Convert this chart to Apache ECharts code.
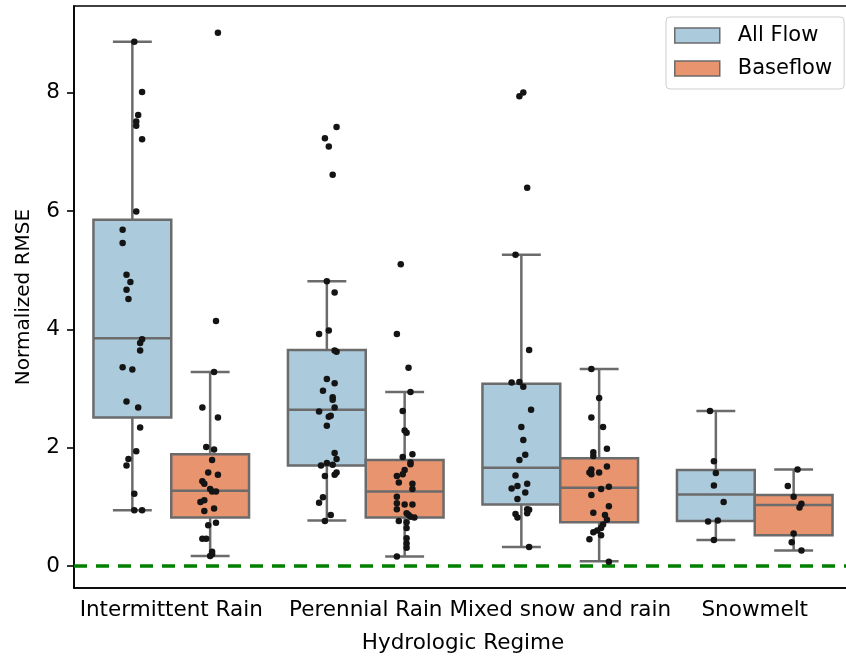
<!DOCTYPE html>
<html>
<head>
<meta charset="utf-8">
<script src="https://cdn.jsdelivr.net/npm/echarts@6/dist/echarts.min.js"></script>
<style>
  html, body { margin: 0; padding: 0; overflow: hidden; background: #ffffff; }
  #chart { width: 852px; height: 659px; }
</style>
</head>
<body>
<div id="chart"></div>
<script>
// Hydrologic regimes along the x axis
const categories = ['Intermittent Rain', 'Perennial Rain', 'Mixed snow and rain', 'Snowmelt'];
const groupNames = ['All Flow', 'Baseflow'];
const yTicks = [0, 2, 4, 6, 8];
const referenceLevel = 0;

// Box summaries per regime: [lower whisker, Q1, median, Q3, upper whisker]
const allFlowBoxes = [
  [0.94, 2.51, 3.85, 5.85, 8.86],
  [0.77, 1.70, 2.64, 3.65, 4.81],
  [0.32, 1.04, 1.66, 3.08, 5.26],
  [0.44, 0.76, 1.21, 1.62, 2.62]
];
const baseflowBoxes = [
  [0.17, 0.82, 1.27, 1.89, 3.28],
  [0.16, 0.82, 1.26, 1.79, 2.94],
  [0.08, 0.74, 1.32, 1.82, 3.33],
  [0.26, 0.52, 1.03, 1.20, 1.63]
];

// Individual gauges: [horizontal jitter, normalized RMSE]
const intermittentAll = [
  [0.01, 8.86], [0.05, 8.01], [0.03, 7.62], [0.02, 7.51], [0.02, 7.44], [0.05, 7.21],
  [0.02, 5.99], [-0.05, 5.68], [-0.05, 5.46], [-0.03, 4.92], [-0.01, 4.80], [-0.03, 4.67],
  [-0.02, 4.51], [0.05, 3.83], [0.04, 3.77], [0.04, 3.64], [-0.05, 3.36], [0.00, 3.32],
  [-0.03, 2.78], [0.03, 2.68], [0.04, 2.34], [0.02, 1.94], [-0.02, 1.81], [-0.03, 1.70],
  [0.01, 1.22], [0.01, 0.94], [0.05, 0.94]
];
const intermittentBase = [
  [0.04, 9.01], [0.03, 4.14], [0.02, 3.28], [-0.04, 2.68], [0.04, 2.51], [-0.02, 2.01],
  [0.02, 1.97], [0.01, 1.79], [-0.01, 1.58], [0.04, 1.54], [-0.04, 1.43], [-0.03, 1.39],
  [0.00, 1.30], [0.01, 1.26], [0.03, 1.26], [-0.03, 1.11], [-0.05, 1.08], [0.02, 0.97],
  [-0.03, 0.93], [0.03, 0.73], [-0.01, 0.69], [-0.04, 0.46], [-0.02, 0.46], [0.01, 0.24],
  [0.01, 0.20], [0.00, 0.17]
];
const perennialAll = [
  [0.05, 7.42], [-0.01, 7.23], [0.01, 7.09], [0.03, 6.61], [0.00, 4.81], [0.04, 4.62],
  [-0.04, 3.92], [0.01, 3.98], [0.04, 3.64], [0.05, 3.62], [0.00, 3.16], [0.04, 3.09],
  [-0.02, 2.96], [0.03, 2.85], [0.03, 2.81], [0.04, 2.68], [-0.04, 2.61], [0.02, 2.54],
  [0.01, 2.52], [0.00, 2.37], [0.04, 1.91], [0.05, 1.81], [-0.03, 1.70], [0.00, 1.74],
  [0.03, 1.71], [-0.01, 1.52], [0.05, 1.58], [0.04, 1.54], [-0.02, 1.16], [-0.04, 1.07],
  [0.02, 0.86], [-0.01, 0.76]
];
const perennialBase = [
  [-0.02, 5.10], [-0.04, 3.92], [0.02, 3.35], [0.03, 2.94], [-0.01, 2.62], [0.00, 2.29],
  [0.01, 2.25], [0.04, 1.89], [-0.01, 1.84], [0.03, 1.75], [0.03, 1.72], [0.00, 1.62],
  [-0.04, 1.52], [-0.01, 1.55], [-0.03, 1.41], [0.04, 1.39], [0.04, 1.30], [-0.04, 1.17],
  [-0.04, 1.06], [-0.04, 0.96], [0.00, 1.04], [0.04, 1.04], [0.01, 0.89], [0.02, 0.86],
  [0.03, 0.83], [0.05, 0.82], [-0.03, 0.76], [0.01, 0.74], [0.01, 0.64], [0.01, 0.47],
  [0.01, 0.38], [0.01, 0.31], [-0.04, 0.16]
];
const mixedAll = [
  [-0.01, 7.94], [0.01, 8.00], [0.03, 6.39], [-0.03, 5.26], [0.04, 3.65], [-0.05, 3.10],
  [-0.01, 3.11], [0.01, 3.03], [0.05, 2.64], [0.00, 2.35], [0.01, 2.13], [0.02, 1.88],
  [-0.01, 1.79], [-0.03, 1.53], [0.03, 1.39], [-0.02, 1.35], [-0.05, 1.31], [0.02, 1.24],
  [-0.02, 1.13], [0.03, 0.96], [0.04, 0.95], [0.03, 0.89], [-0.03, 0.88], [-0.02, 0.82],
  [0.04, 0.32]
];
const mixedBase = [
  [-0.04, 3.33], [0.00, 2.84], [-0.04, 2.51], [0.02, 2.35], [0.04, 1.98], [-0.03, 1.92],
  [-0.03, 1.86], [0.04, 1.68], [-0.04, 1.63], [0.00, 1.58], [-0.04, 1.55], [-0.05, 1.58],
  [0.05, 1.34], [0.01, 1.30], [-0.04, 1.20], [0.05, 1.01], [-0.03, 0.90], [0.03, 0.86],
  [0.04, 0.78], [0.02, 0.70], [0.01, 0.64], [-0.01, 0.60], [-0.03, 0.57], [0.01, 0.52],
  [-0.05, 0.45], [0.05, 0.07]
];
const snowmeltAll = [
  [-0.03, 2.62], [-0.01, 1.77], [0.00, 1.57], [-0.01, 1.36], [0.04, 1.08], [-0.04, 0.75],
  [0.01, 0.77], [-0.01, 0.44]
];
const snowmeltBase = [
  [0.02, 1.63], [-0.03, 1.35], [0.00, 1.17], [0.04, 1.05], [0.03, 0.99], [0.00, 0.55],
  [-0.01, 0.40], [0.04, 0.26]
];

const allFlowPoints = [intermittentAll, perennialAll, mixedAll, snowmeltAll];
const baseflowPoints = [intermittentBase, perennialBase, mixedBase, snowmeltBase];

const FILLS = ['#abcadc', '#e8946f'];
const EDGE = '#6b6b6b';
const FONT = 'DejaVu Sans';
const HALF_DODGE = 0.2;
const BOX_WIDTH = 0.4;
const X_MIN = -0.5;
const X_MAX = categories.length - 0.5;

function boxData(boxes, shift) {
  return boxes.map((b, i) => [i + shift].concat(b));
}
function pointData(groups, shift) {
  const out = [];
  groups.forEach((pts, i) => pts.forEach(p => out.push([i + shift + p[0], p[1]])));
  return out;
}

function renderBox(fill) {
  return function (params, api) {
    const x = api.value(0);
    const lo = api.coord([x, api.value(1)]);
    const q1 = api.coord([x, api.value(2)]);
    const med = api.coord([x, api.value(3)]);
    const q3 = api.coord([x, api.value(4)]);
    const hi = api.coord([x, api.value(5)]);
    const w = api.size([BOX_WIDTH, 0])[0];
    const cx = lo[0];
    const ls = { stroke: EDGE, lineWidth: 2.5, fill: null };
    return {
      type: 'group',
      children: [
        { type: 'line', shape: { x1: cx, y1: q3[1], x2: cx, y2: hi[1] }, style: ls },
        { type: 'line', shape: { x1: cx, y1: q1[1], x2: cx, y2: lo[1] }, style: ls },
        { type: 'line', shape: { x1: cx - w / 4, y1: hi[1], x2: cx + w / 4, y2: hi[1] }, style: ls },
        { type: 'line', shape: { x1: cx - w / 4, y1: lo[1], x2: cx + w / 4, y2: lo[1] }, style: ls },
        { type: 'rect', shape: { x: cx - w / 2, y: q3[1], width: w, height: q1[1] - q3[1] },
          style: { fill: fill, stroke: EDGE, lineWidth: 2.5 } },
        { type: 'line', shape: { x1: cx - w / 2, y1: med[1], x2: cx + w / 2, y2: med[1] }, style: ls }
      ]
    };
  };
}

const chart = echarts.init(document.getElementById('chart'), null, { renderer: 'canvas' });

chart.setOption({
  backgroundColor: '#ffffff',
  animation: false,
  textStyle: { fontFamily: FONT, color: '#000' },
  grid: {
    left: 74, right: 0, top: 6, bottom: 71,
    show: true, borderColor: '#000', borderWidth: 1.6, backgroundColor: 'transparent'
  },
  legend: {
    left: 666, top: 17, orient: 'vertical',
    padding: [8, 12, 10, 8],
    itemWidth: 45, itemHeight: 15, itemGap: 12,
    backgroundColor: 'rgba(255,255,255,0.8)',
    borderColor: '#cfcfcf', borderWidth: 1, borderRadius: 4,
    textStyle: { fontFamily: FONT, fontSize: 21, color: '#000', padding: [0, 0, 0, 13] },
    data: groupNames.map((n, k) => ({
      name: n, icon: 'rect',
      itemStyle: { color: FILLS[k], borderColor: EDGE, borderWidth: 1.5 }
    }))
  },
  xAxis: [
    {
      type: 'category', data: categories, position: 'bottom',
      name: 'Hydrologic Regime', nameLocation: 'middle', nameGap: 44,
      nameTextStyle: { fontFamily: FONT, fontSize: 21.5, color: '#000' },
      axisLine: { onZero: false, lineStyle: { color: '#000', width: 1.6 } },
      axisTick: { alignWithLabel: true, length: 6, lineStyle: { color: '#000', width: 1.6 } },
      axisLabel: { interval: 0, margin: 11, fontFamily: FONT, fontSize: 21.5, color: '#000' },
      splitLine: { show: false }
    },
    {
      type: 'value', min: X_MIN, max: X_MAX, show: false,
      axisLine: { show: false, onZero: false }, splitLine: { show: false }
    }
  ],
  yAxis: {
    type: 'value', min: -0.372, max: 9.463,
    name: 'Normalized RMSE', nameLocation: 'middle', nameGap: 40, nameRotate: 90,
    nameTextStyle: { fontFamily: FONT, fontSize: 20, color: '#000' },
    axisLine: { show: true, onZero: false, lineStyle: { color: '#000', width: 1.6 } },
    axisTick: { show: true, length: 7, customValues: yTicks, lineStyle: { color: '#000', width: 1.6 } },
    axisLabel: { customValues: yTicks, margin: 14, fontFamily: FONT, fontSize: 21.5, color: '#000' },
    splitLine: { show: false }
  },
  series: [
    {
      name: 'zeroLine', type: 'line', xAxisIndex: 1, z: 3,
      symbol: 'none', silent: true,
      lineStyle: { color: '#008000', width: 3.5, type: [13, 9] },
      data: [[X_MIN, referenceLevel], [X_MAX, referenceLevel]]
    },
    {
      name: groupNames[0], type: 'custom', xAxisIndex: 1, z: 2,
      itemStyle: { color: FILLS[0], borderColor: EDGE },
      renderItem: renderBox(FILLS[0]),
      encode: { x: 0, y: [1, 2, 3, 4, 5] },
      data: boxData(allFlowBoxes, -HALF_DODGE)
    },
    {
      name: groupNames[1], type: 'custom', xAxisIndex: 1, z: 2,
      itemStyle: { color: FILLS[1], borderColor: EDGE },
      renderItem: renderBox(FILLS[1]),
      encode: { x: 0, y: [1, 2, 3, 4, 5] },
      data: boxData(baseflowBoxes, HALF_DODGE)
    },
    {
      name: 'allFlowPts', type: 'scatter', xAxisIndex: 1, z: 4,
      symbolSize: 6.5, itemStyle: { color: '#141414', opacity: 1 },
      data: pointData(allFlowPoints, -HALF_DODGE)
    },
    {
      name: 'baseflowPts', type: 'scatter', xAxisIndex: 1, z: 4,
      symbolSize: 6.5, itemStyle: { color: '#141414', opacity: 1 },
      data: pointData(baseflowPoints, HALF_DODGE)
    }
  ]
});
</script>
</body>
</html>
